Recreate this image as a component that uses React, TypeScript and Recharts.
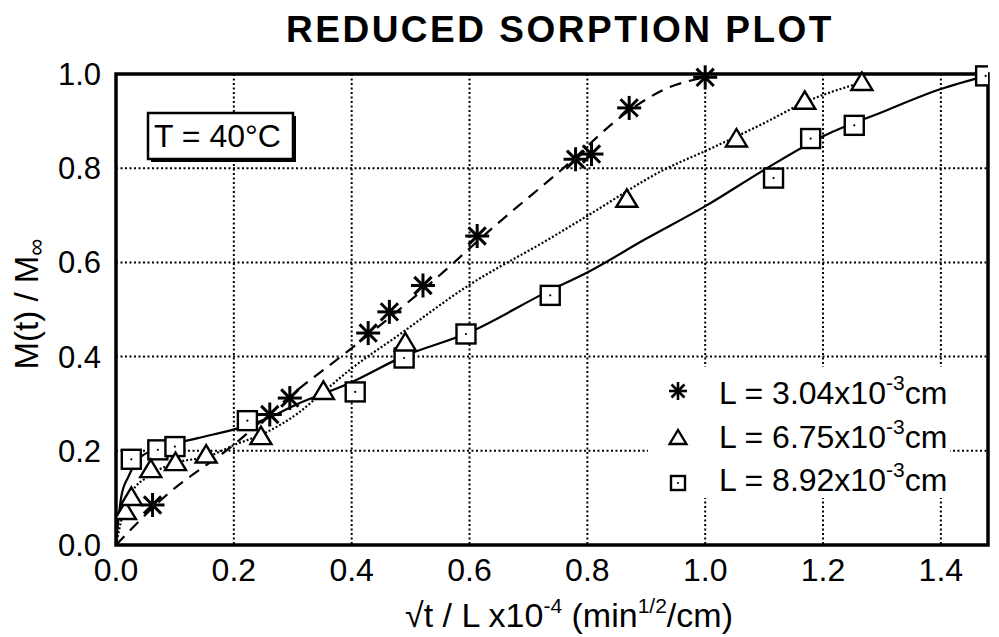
import React from 'react'
import {
  ComposedChart,
  CartesianGrid,
  Line,
  ReferenceArea,
  Scatter,
  XAxis,
  YAxis
} from 'recharts'

const starX = [0.062, 0.261, 0.295, 0.428, 0.464, 0.521, 0.613, 0.780, 0.807, 0.871, 1.0]
const starY = [0.085, 0.277, 0.312, 0.450, 0.495, 0.551, 0.656, 0.819, 0.830, 0.928, 0.993]

const triX = [0.016, 0.026, 0.059, 0.101, 0.153, 0.246, 0.352, 0.491, 0.867, 1.053, 1.169, 1.266]
const triY = [0.071, 0.101, 0.160, 0.175, 0.191, 0.230, 0.326, 0.429, 0.734, 0.862, 0.942, 0.982]

const sqX = [0.026, 0.071, 0.100, 0.223, 0.406, 0.489, 0.594, 0.737, 1.116, 1.179, 1.253, 1.476]
const sqY = [0.182, 0.202, 0.209, 0.264, 0.325, 0.397, 0.448, 0.530, 0.779, 0.863, 0.891, 0.996]

// fitted curves
const dashX = [0, 0.083, 0.196, 0.309, 0.397, 0.535, 0.649, 0.751, 0.875, 0.932, 1.0]
const dashY = [0, 0.103, 0.209, 0.330, 0.415, 0.557, 0.684, 0.791, 0.926, 0.968, 0.993]

const dotX = [0, 0.012, 0.026, 0.054, 0.100, 0.156, 0.202, 0.253, 0.309, 0.352, 0.397, 0.479, 0.597, 0.734, 0.799, 0.932, 1.001, 1.102, 1.169, 1.266]
const dotY = [0, 0.067, 0.110, 0.145, 0.174, 0.188, 0.213, 0.238, 0.280, 0.325, 0.372, 0.445, 0.550, 0.649, 0.698, 0.798, 0.837, 0.897, 0.940, 0.982]

const solidX = [0, 0.009, 0.021, 0.043, 0.083, 0.139, 0.202, 0.253, 0.309, 0.397, 0.489, 0.597, 0.734, 0.799, 0.898, 1.001, 1.102, 1.202, 1.300, 1.400, 1.476]
const solidY = [0, 0.103, 0.145, 0.188, 0.209, 0.227, 0.246, 0.267, 0.300, 0.344, 0.401, 0.450, 0.539, 0.578, 0.649, 0.720, 0.798, 0.869, 0.919, 0.968, 0.996]

const xTicks = [0, 0.2, 0.4, 0.6, 0.8, 1.0, 1.2, 1.4]
const yTicks = [0, 0.2, 0.4, 0.6, 0.8, 1.0]
const legendValues = ['3.04', '6.75', '8.92']

const zip = (xs: number[], ys: number[]) => xs.map((x, i) => ({x, y: ys[i]}))

const FONT = '"Liberation Sans", Arial, Helvetica, sans-serif'
const W = 999
const H = 637
const margin = {top: 74, right: 11, bottom: 52, left: 56}

const Star = ({cx, cy, r = 12, w = 3}: {cx: number, cy: number, r?: number, w?: number}) => {
  const d = r * 0.72
  return (
    <g stroke='#000' strokeWidth={w}>
      <line x1={cx} y1={cy - r} x2={cx} y2={cy + r}/>
      <line x1={cx - r} y1={cy} x2={cx + r} y2={cy}/>
      <line x1={cx - d} y1={cy - d} x2={cx + d} y2={cy + d}/>
      <line x1={cx - d} y1={cy + d} x2={cx + d} y2={cy - d}/>
    </g>
  )
}

const Tri = ({cx, cy, s = 10}: {cx: number, cy: number, s?: number}) => (
  <polygon
    points={`${cx},${cy - s} ${cx - s * 1.05},${cy + s * 0.75} ${cx + s * 1.05},${cy + s * 0.75}`}
    fill='#fff' stroke='#000' strokeWidth={2.4} strokeLinejoin='miter'
  />
)

const Sq = ({cx, cy, s = 9.5}: {cx: number, cy: number, s?: number}) => (
  <g>
    <rect x={cx - s} y={cy - s} width={s * 2} height={s * 2} fill='#fff' stroke='#000' strokeWidth={2.4}/>
    <circle cx={cx} cy={cy} r={1.1} fill='#000'/>
  </g>
)

const Overlay = () => (
  <svg width={W} height={H} style={{position: 'absolute', left: 0, top: 0, pointerEvents: 'none'}} fontFamily={FONT}>
    <text x={560} y={42} textAnchor='middle' fontSize={37} fontWeight='bold' letterSpacing={2.5}>
      REDUCED SORPTION PLOT
    </text>

    <text transform='translate(38,304) rotate(-90)' textAnchor='middle' fontSize={33}>
      M(t) / M<tspan fontSize={24} dy={6}>∞</tspan>
    </text>

    <text x={569} y={627} textAnchor='middle' fontSize={34}>
      √t / L x10<tspan fontSize={21} dy={-14}>-4</tspan>
      <tspan dy={14}> (min</tspan>
      <tspan fontSize={21} dy={-14}>1/2</tspan>
      <tspan dy={14}>/cm)</tspan>
    </text>

    <rect x={151} y={116} width={145} height={46} fill='#000'/>
    <rect x={148} y={113} width={145} height={46} fill='#fff' stroke='#000' strokeWidth={2.5}/>
    <text x={154} y={147} fontSize={32}>T = 40°C</text>

    <rect x={648} y={367} width={302} height={131} fill='#fff'/>
    {legendValues.map((v, i) => {
      const cy = 391 + i * 46
      const base = 404 + i * 43.5
      return (
        <g key={v}>
          {i === 0 && <Star cx={678} cy={cy} r={9} w={2.6}/>}
          {i === 1 && <Tri cx={678} cy={cy + 1} s={8}/>}
          {i === 2 && <Sq cx={678} cy={cy} s={7}/>}
          <text x={719} y={base} fontSize={32}>
            L = {v}x10<tspan fontSize={21} dy={-14}>-3</tspan><tspan dy={14}>cm</tspan>
          </text>
        </g>
      )
    })}
  </svg>
)

export default function App() {
  const tickStyle = {fill: '#000', fontSize: 31, fontFamily: FONT}
  return (
    <div style={{position: 'absolute', left: 0, top: 0, width: W, height: H, background: '#fff'}}>
      <ComposedChart width={W} height={H} margin={margin}>
        <CartesianGrid stroke='#000' strokeWidth={2} strokeDasharray='2 2.5'/>
        <XAxis
          type='number' dataKey='x' domain={[0, 1.48]} ticks={xTicks}
          allowDataOverflow axisLine={false} tickLine={false} tickSize={0} tickMargin={13}
          height={40} tick={{...tickStyle, fontSize: 32}}
          tickFormatter={(v: number) => v.toFixed(1)}
        />
        <YAxis
          type='number' dataKey='y' domain={[0, 1]} ticks={yTicks}
          axisLine={false} tickLine={false} tickSize={0} tickMargin={15}
          width={60} tick={tickStyle}
          tickFormatter={(v: number) => v.toFixed(1)}
        />
        <Line data={zip(dashX, dashY)} dataKey='y' type='monotone' stroke='#000' strokeWidth={2.2}
          strokeDasharray='12 8' dot={false} isAnimationActive={false}/>
        <Line data={zip(dotX, dotY)} dataKey='y' type='monotone' stroke='#000' strokeWidth={2.2}
          strokeDasharray='2 2' dot={false} isAnimationActive={false}/>
        <Line data={zip(solidX, solidY)} dataKey='y' type='monotone' stroke='#000' strokeWidth={2.2}
          dot={false} isAnimationActive={false}/>
        <Scatter data={zip(sqX, sqY)} dataKey='y' isAnimationActive={false}
          shape={(p: any) => <Sq cx={p.cx} cy={p.cy}/>}/>
        <Scatter data={zip(triX, triY)} dataKey='y' isAnimationActive={false}
          shape={(p: any) => <Tri cx={p.cx} cy={p.cy}/>}/>
        <Scatter data={zip(starX, starY)} dataKey='y' isAnimationActive={false}
          shape={(p: any) => <Star cx={p.cx} cy={p.cy}/>}/>
        <ReferenceArea x1={0} x2={1.48} y1={0} y2={1} fill='none' stroke='#000' strokeWidth={3.5}
          ifOverflow='visible'/>
      </ComposedChart>
      <Overlay/>
    </div>
  )
}
